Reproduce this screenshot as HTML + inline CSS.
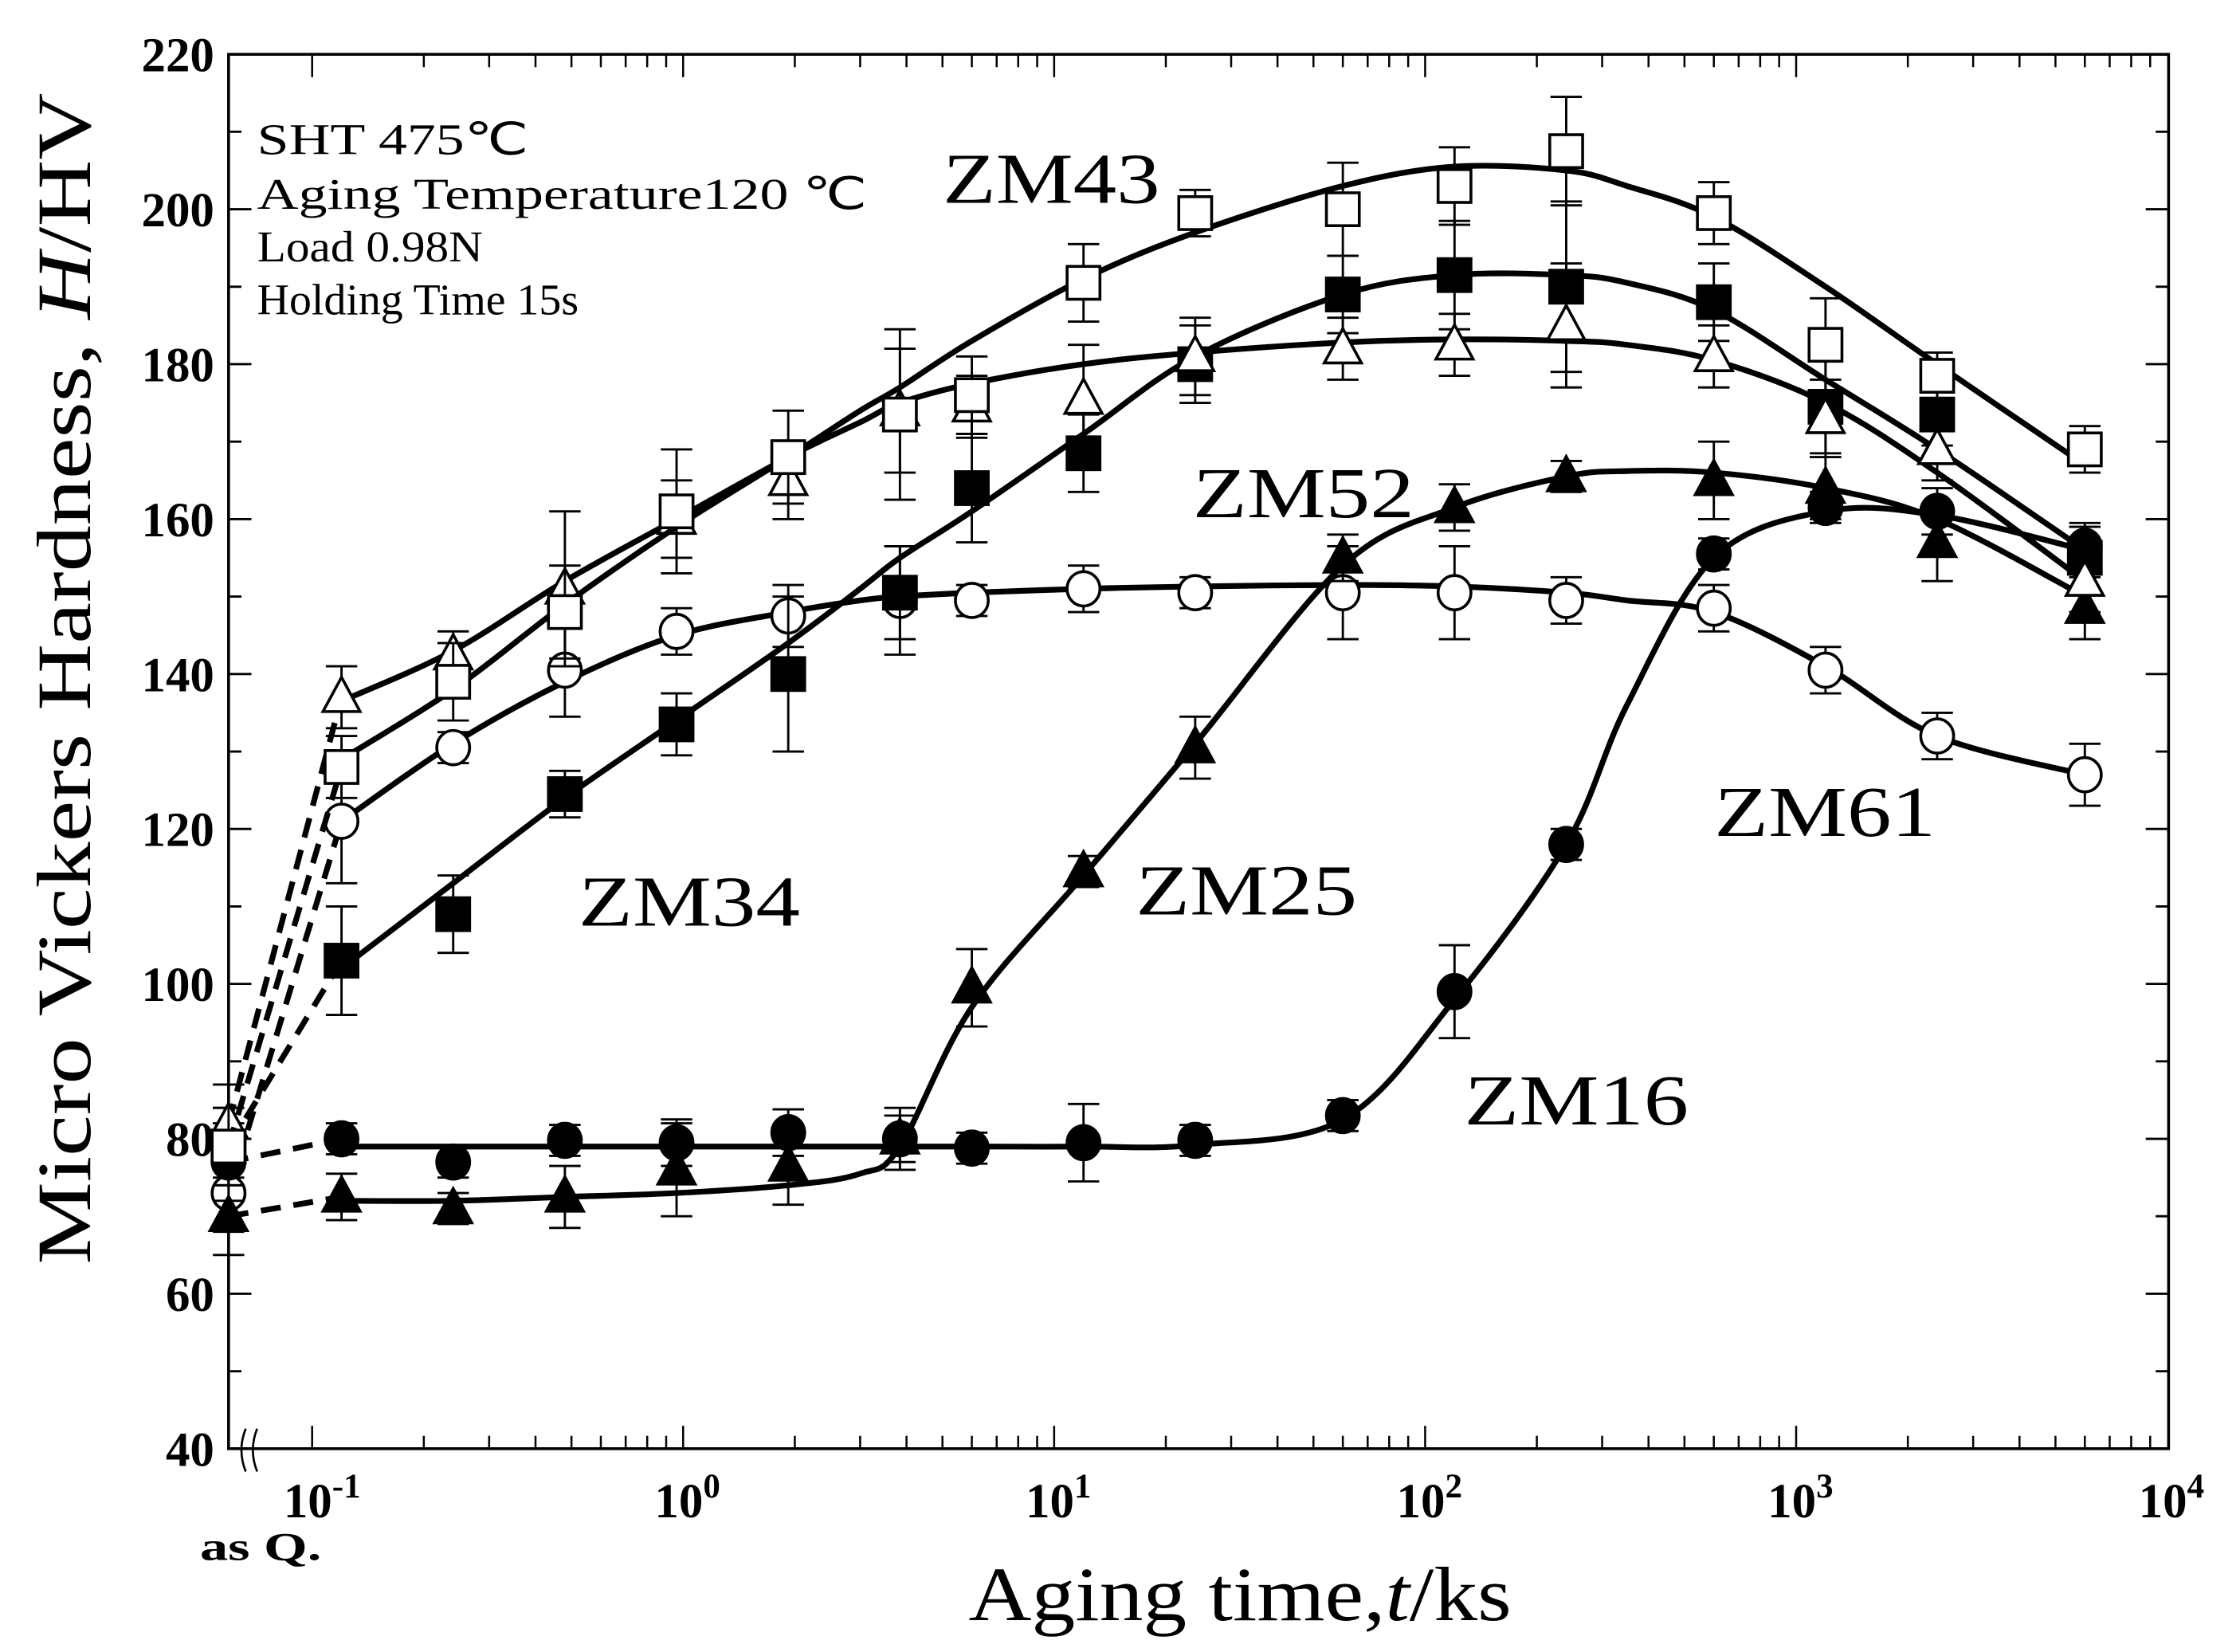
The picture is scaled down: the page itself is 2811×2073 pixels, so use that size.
<!DOCTYPE html>
<html><head><meta charset="utf-8"><style>
html,body{margin:0;padding:0;background:#fff}
svg{display:block}
text{font-family:"Liberation Serif",serif;fill:#000}
</style></head><body>
<svg id="chart" width="2811" height="2073" viewBox="0 0 1568 1156.3" xmlns="http://www.w3.org/2000/svg">
<rect x="0" y="0" width="1568" height="1156.3" fill="#fff"/>
<g id="axes"></g>
<g id="series"></g>
<g font-size="31">
<text x="180" y="108" textLength="190" lengthAdjust="spacingAndGlyphs">SHT 475℃</text>
<text x="180" y="146" textLength="427" lengthAdjust="spacingAndGlyphs">Aging Temperature120 ℃</text>
<text x="180" y="183" textLength="158" lengthAdjust="spacingAndGlyphs">Load 0.98N</text>
<text x="180" y="220" textLength="225" lengthAdjust="spacingAndGlyphs">Holding Time 15s</text>
</g>
<g font-size="50">
<text x="660" y="142" textLength="152" lengthAdjust="spacingAndGlyphs">ZM43</text>
<text x="835" y="362" textLength="155" lengthAdjust="spacingAndGlyphs">ZM52</text>
<text x="405" y="648" textLength="155" lengthAdjust="spacingAndGlyphs">ZM34</text>
<text x="795" y="640" textLength="155" lengthAdjust="spacingAndGlyphs">ZM25</text>
<text x="1200" y="585" textLength="155" lengthAdjust="spacingAndGlyphs">ZM61</text>
<text x="1025" y="787" textLength="157" lengthAdjust="spacingAndGlyphs">ZM16</text>
</g>
<text font-size="54" textLength="820" lengthAdjust="spacingAndGlyphs" x="-885" y="63" transform="rotate(-90)">Micro Vickers Hardness,  <tspan font-style="italic">H</tspan>/HV</text>
<text font-size="54" textLength="380" lengthAdjust="spacingAndGlyphs" x="678" y="1134">Aging time,<tspan font-style="italic">t</tspan>/ks</text>
<text font-size="28" font-weight="bold" x="140" y="1092" textLength="85" lengthAdjust="spacingAndGlyphs">as Q.</text>
</svg>
<script>
const yTicks=[40,60,80,100,120,140,160,180,200,220];
const xDecades=[-1,0,1,2,3,4];
const times=[0.12,0.24,0.48,0.96,1.92,3.84,6,12,24,60,120,240,600,1200,2400,6000];
const zm43=[128,139,148,161,168,173.5,176,190.5,199.5,200,203,207.5,199.5,182.5,178.5,169];
const zm43Err=[4,5,6,8,6,11,5,5,3,6,5,7,4,6,3,3];
const zm43Q=79;
const zm34=[103,109,124.5,133.5,140,150.5,164,168.5,180,189,191.5,190,188,174.5,173.5,155];
const zm34Err=[7,5,3,4,10,6,7,5,5,5,7,11,5,6,4,4];
const zm34Q=79;
const zm52=[137,142.5,151,160,165,174,174.5,175.5,181,182,182.5,185,181,173,169,152];
const zm52Err=[4,3,10,5,5,8,4,7,5,4,4,8,4,5,4,4];
const zm52Q=82;
const zm61=[121,130.5,140.5,145.5,147.5,149.5,149.5,151,150.5,150.5,150.5,149.5,148.5,140.5,132,127];
const zm61Err=[8,2,6,3,4,7,2,3,2,6,6,3,3,3,3,4];
const zm61Q=73;
const zm16=[80,77,79.8,79.5,80.8,80,78.8,79.5,79.8,83,99,118,155.5,161.5,161,156.5];
const zm16Err=[2,2,2,3,3,3,2,5,2,2,6,2,2,2,3,3];
const zm16Q=77;
const zm25=[72.5,71,72.5,76,76.5,80,99.5,114.5,130.5,155,161.5,165.5,165,164,157,148.5];
const zm25Err=[3,2,4,6,5,4,5,2,4,3,3,2,5,4,5,4];
const zm25Q=70;
const fitTimes=[0.12,0.24,0.48,0.96,1.92,3,3.84,6,12,24,60,120,240,350,600,1200,2400,6000];
const zm43Fit=[129,138,149,159,168,174,177,183,191,197,203,205.5,205,203,199,190,180,167];
const zm34Fit=[102,113,124,134,144,151,155,161,171,181,189,191.5,191.5,190.5,187,178,169,156];
const zm52Fit=[136.5,143,152,160,168,172.5,175,177.5,180,181.5,182.8,183.2,183,182.5,180.5,175,166,152];
const zm61Fit=[121,131,139,145,148,149.5,150,150.5,151,151.3,151.5,151.3,150.5,149.5,148,141,132,127];
const zm16Fit=[79,79,79,79,79,79,79,79,79,79.2,82.5,98,118,136,155,161,160.5,156];
const zm25Fit=[72,72,72.5,73,74,75.5,79,97,114,131,154,161.5,165.5,166.2,166,164,160,150];

const NS='http://www.w3.org/2000/svg';
const L=160,R=1518,T=38,B=1014,QX=160;
const X0=218.5,DEC=259.7;
function xs(t){return X0+(Math.log10(t)+1)*DEC;}
function ys(v){return B-(v-40)/180*(B-T);}
function mk(tag,attrs,parent){const e=document.createElementNS(NS,tag);for(const k in attrs)e.setAttribute(k,attrs[k]);parent.appendChild(e);return e;}
const axes=document.getElementById('axes');
const frame=mk('rect',{x:L,y:T,width:R-L,height:B-T,fill:'none',stroke:'#000','stroke-width':2},axes);


for(let v=40;v<=220;v+=10){
  const y=ys(v),len=(v%20===0)?16:9;
  const t1=mk('line',{x1:L,x2:L+len,y1:y,y2:y,stroke:'#000','stroke-width':1.6},axes);
  
  
  const t2=mk('line',{x1:R,x2:R-len,y1:y,y2:y,stroke:'#000','stroke-width':1.6},axes);
  
  
}
yTicks.forEach(v=>{
  const t=mk('text',{x:150,y:ys(v)+12,'font-size':34,'font-weight':'bold','text-anchor':'end'},axes);
  t.textContent=v;
  
  
});
for(let d=-1;d<4;d++){
  for(let m=1;m<10;m++){
    const x=xs(m*Math.pow(10,d));
    const len=m===1?16:9;
    const a=mk('line',{x1:x,x2:x,y1:B,y2:B-len,stroke:'#000','stroke-width':1.4},axes);
    
    
    const b=mk('line',{x1:x,x2:x,y1:T,y2:T+len,stroke:'#000','stroke-width':1.4},axes);
    
    
  }
}
xDecades.forEach(d=>{
  const x=xs(Math.pow(10,d));
  const t=mk('text',{x:x-20,y:1062,'font-size':34,'font-weight':'bold'},axes);
  t.textContent='10';
  const s=mk('tspan',{dy:-14,'font-size':24},t);
  s.textContent=String(d);
  
  
});
const brk=mk('path',{d:'M172,1000 q-6,15 0,30 M180,1000 q-6,15 0,30',fill:'none',stroke:'#000','stroke-width':1.5},axes);



const sg=document.getElementById('series');
function curvePath(ts,vs){
  const p=ts.map((t,i)=>[xs(t),ys(vs[i])]);
  let d='M'+p[0][0]+','+p[0][1];
  for(let i=0;i<p.length-1;i++){
    const p0=p[i-1]||p[i],p1=p[i],p2=p[i+1],p3=p[i+2]||p2;
    const c1=[p1[0]+(p2[0]-p0[0])/6,p1[1]+(p2[1]-p0[1])/6];
    const c2=[p2[0]-(p3[0]-p1[0])/6,p2[1]-(p3[1]-p1[1])/6];
    d+=' C'+c1[0]+','+c1[1]+' '+c2[0]+','+c2[1]+' '+p2[0]+','+p2[1];
  }
  return d;
}
function marker(g,shape,fill,x,y){
  let e;
  if(shape==='circle')e=mk('ellipse',{cx:x,cy:y,rx:11.5,ry:12,fill:fill,stroke:'#000','stroke-width':2},g);
  else if(shape==='square')e=mk('rect',{x:x-11.5,y:y-11.5,width:23,height:23,fill:fill,stroke:'#000','stroke-width':2},g);
  else e=mk('path',{d:`M${x},${y-14} L${x+13},${y+10} L${x-13},${y+10} Z`,fill:fill,stroke:'#000','stroke-width':2},g);
  
  
}
function drawSeries(name,vals,err,q,fit,shape,fill){
  const g=mk('g',{},sg);
  
  
  const c=mk('path',{d:curvePath(fitTimes,fit),fill:'none',stroke:'#000','stroke-width':4},g);
  
  
  const dl=mk('line',{x1:QX,y1:ys(q),x2:xs(times[0]),y2:ys(vals[0]),stroke:'#000','stroke-width':4,'stroke-dasharray':'14,9'},g);
  
  
  vals.forEach((v,i)=>{
    const x=xs(times[i]),y1=ys(v+err[i]),y2=ys(v-err[i]);
    const eb=mk('path',{d:`M${x},${y1}V${y2}M${x-11},${y1}H${x+11}M${x-11},${y2}H${x+11}`,stroke:'#000','stroke-width':1.6,fill:'none'},g);
    
    
  });
  const qb=mk('path',{d:`M${QX},${ys(q+5)}V${ys(q-5)}M${QX-11},${ys(q+5)}H${QX+11}M${QX-11},${ys(q-5)}H${QX+11}`,stroke:'#000','stroke-width':1.6,fill:'none'},g);
  
  
  marker(g,shape,fill,QX,ys(q));
  vals.forEach((v,i)=>marker(g,shape,fill,xs(times[i]),ys(v)));
}
drawSeries('zm61',zm61,zm61Err,zm61Q,zm61Fit,'circle','#fff');
drawSeries('zm16',zm16,zm16Err,zm16Q,zm16Fit,'circle','#000');
drawSeries('zm25',zm25,zm25Err,zm25Q,zm25Fit,'tri','#000');
drawSeries('zm34',zm34,zm34Err,zm34Q,zm34Fit,'square','#000');
drawSeries('zm52',zm52,zm52Err,zm52Q,zm52Fit,'tri','#fff');
drawSeries('zm43',zm43,zm43Err,zm43Q,zm43Fit,'square','#fff');
</script>
</body></html>
